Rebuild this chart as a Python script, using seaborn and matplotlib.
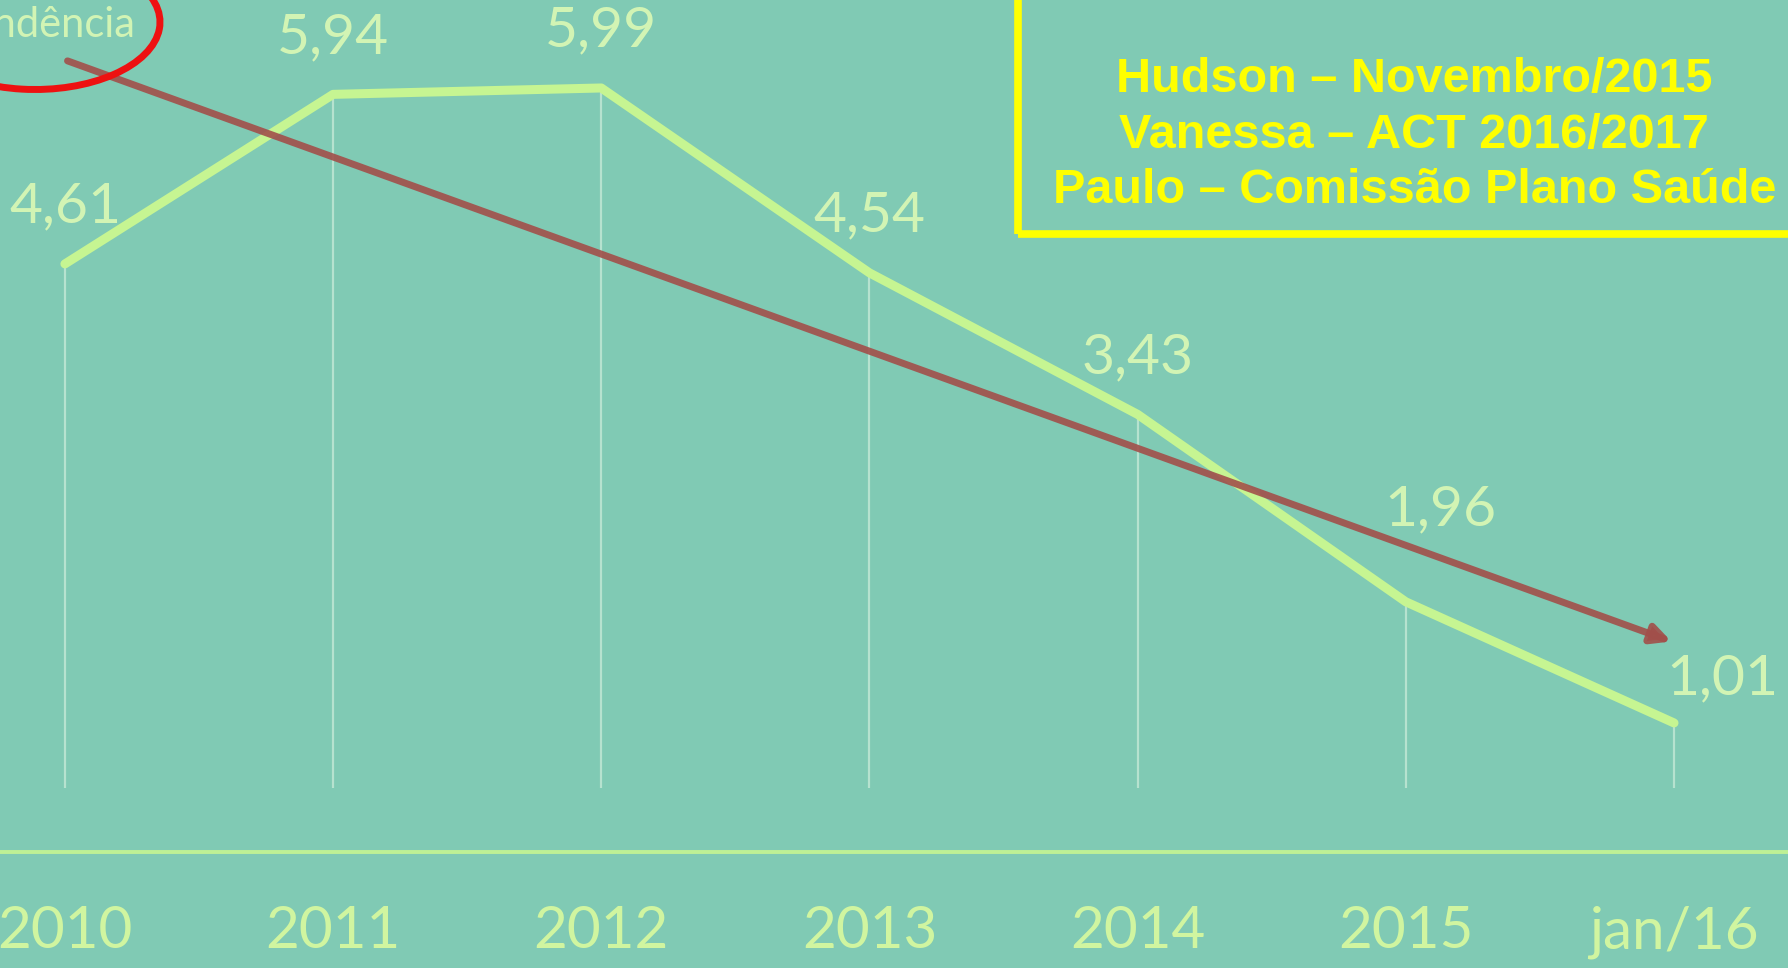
import matplotlib.pyplot as plt
import seaborn as sns
import pandas as pd
import numpy as np
from matplotlib.patches import Ellipse, Rectangle

# Data
periods = ['2010', '2011', '2012', '2013', '2014', '2015', 'jan/16']
values = [4.61, 5.94, 5.99, 4.54, 3.43, 1.96, 1.01]
box_lines = ['Hudson – Novembro/2015',
             'Vanessa – ACT 2016/2017',
             'Paulo – Comissão Plano Saúde']
trend_label = 'Tendência'

df = pd.DataFrame({'Período': periods, 'Valor': values})
pos = np.arange(len(periods))

bg = '#80cab4'
line_green = '#c6f592'
text_green = '#d2f4b4'

sns.set_theme(style='white')
plt.rcParams['font.family'] = ['Lato', 'DejaVu Sans']

fig = plt.figure(figsize=(17.88, 9.68), dpi=100)
fig.patch.set_facecolor(bg)
ax = fig.add_axes([0, 0.0806, 1, 0.9194])
ax.set_facecolor(bg)

# drop lines from each point
ax.vlines(pos, 0.5, values, color='#e4f6e6', alpha=0.55, linewidth=1.6, zorder=1)

# main series
sns.lineplot(data=df, x='Período', y='Valor', color=line_green,
             linewidth=6.5, sort=False, ax=ax, zorder=3)

# baseline
ax.axhline(0, color=line_green, linewidth=2.8, alpha=0.9, zorder=2)

# linear trend arrow
slope, intercept = np.polyfit(pos, values, 1)
ax.annotate('', xy=(pos[-1], slope * pos[-1] + intercept),
            xytext=(pos[0], slope * pos[0] + intercept),
            arrowprops=dict(arrowstyle='-|>', color='#a24f4a', lw=5,
                            mutation_scale=28, alpha=0.9),
            zorder=4)

# value labels
offsets = [(0, 41), (0, 41), (0, 41), (0, 41), (0, 41), (25, 66), (35, 32)]
for x, v, off in zip(pos, values, offsets):
    ax.annotate(f'{v:.2f}'.replace('.', ','), xy=(x, v), xytext=off,
                textcoords='offset points', ha='center', va='center',
                fontsize=41, color=text_green)

ax.set_xlim(-0.242, 6.425)
ax.set_ylim(-0.30, 6.68)
ax.set_xticks(pos, periods)
ax.set_yticks([])
ax.set_xlabel('')
ax.set_ylabel('')
ax.tick_params(axis='x', length=0, pad=11, labelsize=42, labelcolor='#d0f5a0')
for s in ax.spines.values():
    s.set_visible(False)

# "Tendência" label with red ellipse (cut off at the left edge)
fig.text(0.0755, 0.962, trend_label, ha='right', va='baseline',
         fontsize=30, color=text_green)
fig.add_artist(Ellipse((35 / 1788, 1 - 22 / 968), 250 / 1788, 135 / 968,
                       angle=-6, transform=fig.transFigure, fill=False,
                       edgecolor='#ee1111', linewidth=5))

# yellow box with names
fig.add_artist(Rectangle((0.5694, 0.7583), 0.45, 0.3, transform=fig.transFigure,
                         fill=False, edgecolor='#ffff00', linewidth=5.5))
fig.text(0.791, 0.8605, '\n'.join(box_lines), ha='center', va='center',
         fontsize=35, fontweight='bold', color='#ffff00', linespacing=1.3,
         family=['Liberation Sans Narrow', 'Liberation Sans', 'DejaVu Sans'])

fig.savefig('out.png', dpi=100, facecolor=fig.get_facecolor())
